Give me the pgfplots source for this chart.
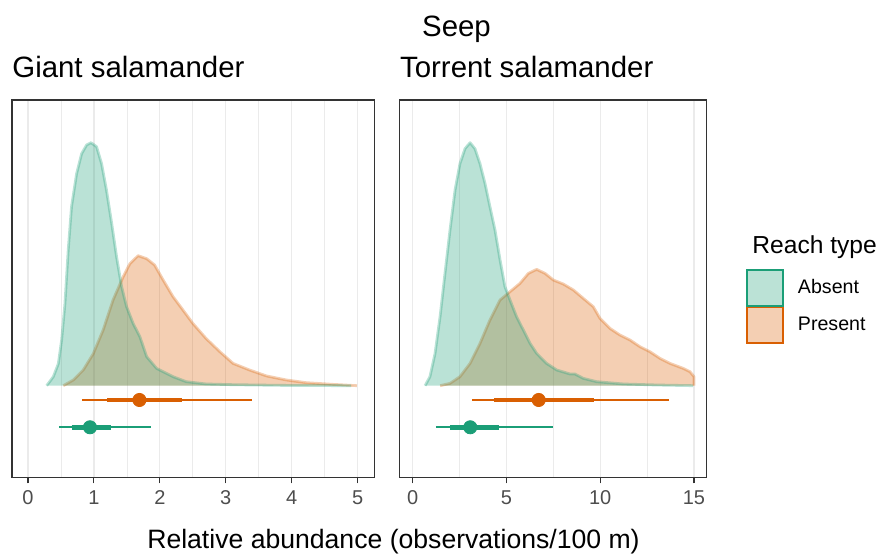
\documentclass[border=0pt]{standalone}
\usepackage{fontspec}
\setmainfont{Liberation Sans}
\usepackage{pgfplots}
\usepackage{pgfplotstable}
\pgfplotsset{compat=1.18}

\definecolor{absent}{HTML}{1B9E77}
\definecolor{present}{HTML}{D95F02}
\definecolor{gridc}{HTML}{EBEBEB}
\definecolor{frame}{HTML}{333333}
\definecolor{ticklab}{HTML}{4D4D4D}

% densities: x, height above the slab baseline (px units)
\pgfplotstableread{
x h
0.283 0
0.384 9
0.46 22
0.51 45.7
0.56 82
0.61 135.7
0.66 179
0.737 212
0.813 232
0.889 240.7
0.955 243
1.04 239
1.116 222
1.19 195.7
1.27 162
1.343 129
1.42 99
1.495 79
1.596 62
1.697 49
1.8 29
1.95 17.3
2.1 12.3
2.2 9
2.4 4
2.7 1.7
3.11 1
3.87 0.3
4.9 0
}\giantabs

\pgfplotstableread{
x h
0.535 0
0.687 5.7
0.838 15.7
0.99 32
1.14 55.7
1.29 85.7
1.444 109
1.545 122
1.67 130
1.8 127
1.92 120.7
2.05 105.7
2.2 89
2.35 75.7
2.5 62.3
2.7 47.3
2.91 34
3.11 22.3
3.36 15.7
3.62 9.7
3.92 5.7
4.22 3
4.63 1.3
4.99 0
}\giantpre

\pgfplotstableread{
x h
0.66 0
0.92 9
1.19 32
1.46 69
1.72 112
1.99 155.7
2.26 195.7
2.52 222
2.79 237
3.06 243
3.32 237
3.59 222
3.86 202
4.12 179
4.39 155.7
4.66 125.7
4.92 99
5.19 85.7
5.54 69
5.9 55.7
6.26 42.3
6.61 32.3
7.14 22.3
7.68 15.7
8.39 11.7
8.65 11.7
9.1 7.3
9.81 4
11.23 1.7
13.0 0.7
14.96 0
}\torrabs

\pgfplotstableread{
x h
1.46 0
1.99 2.3
2.52 9
3.06 22.3
3.59 42.3
4.12 65.7
4.66 85.7
5.19 94
5.72 102.3
6.17 112.3
6.61 116.3
7.06 112.3
7.5 105.7
8.03 101.7
8.57 95.7
9.1 87.3
9.63 79
9.99 67.3
10.52 57.3
11.05 50.7
11.59 45.7
12.12 39
12.65 34
13.19 27.3
13.72 22.3
14.43 17.3
14.79 14
15.0 9
15.0 0
}\torrpre

\pgfplotsset{
  panel/.style={
    scale only axis, anchor=south west,
    height=188.85pt, ymin=0, ymax=377.7, ytick=\empty,
    axis line style={frame, line width=0.55pt},
    tick align=outside, xtick pos=lower,
    major tick length=2.85pt, minor tick length=0pt,
    tick style={frame, line width=0.55pt},
    minor x tick num=1,
    xmajorgrids, xminorgrids,
    major grid style={gridc, line width=0.6pt},
    minor grid style={gridc, line width=0.35pt},
    /pgf/number format/assume math mode=true,
    xticklabel style={font=\fontsize{10}{12}\selectfont, text=ticklab,
                      inner sep=0pt, yshift=-3.3pt},
  },
  slab/.style={draw=#1, fill=#1, opacity=0.3, line width=1.4pt, line join=round},
  thinci/.style={#1, line width=1pt},
  thickci/.style={#1, line width=2.4pt},
  pt/.style={#1, only marks, mark=*, mark size=3.3pt},
}

\begin{document}
\begin{tikzpicture}
\path[use as bounding box] (0,0) rectangle (440pt,277.5pt);

\begin{axis}[panel, at={(6pt,38.65pt)}, width=181.35pt,
  xmin=-0.243, xmax=5.259, xtick={0,1,2,3,4,5}]
  \addplot[slab=present] table[x=x, y expr=\thisrow{h}+92] {\giantpre};
  \addplot[slab=absent] table[x=x, y expr=\thisrow{h}+92] {\giantabs};
  \addplot[thinci=present] coordinates {(0.823,77.7) (3.40,77.7)};
  \addplot[thickci=present] coordinates {(1.20,77.7) (2.34,77.7)};
  \addplot[pt=present] coordinates {(1.69,77.7)};
  \addplot[thinci=absent] coordinates {(0.475,50.4) (1.864,50.4)};
  \addplot[thickci=absent] coordinates {(0.66,50.4) (1.26,50.4)};
  \addplot[pt=absent] coordinates {(0.94,50.4)};
\end{axis}

\begin{axis}[panel, at={(199.85pt,38.65pt)}, width=153.5pt,
  xmin=-0.693, xmax=15.68, xtick={0,5,10,15},
  legend style={at={(axis description cs:1.128,0.5526)}, anchor=north west,
    draw=none, fill=none, inner sep=0pt, row sep=0pt, column sep=7pt,
    font=\fontsize{9.8}{12}\selectfont,
    nodes={inner sep=0pt, anchor=west}},
  legend cell align=left,
  legend image code/.code={\draw[#1, line width=0.8pt] (0pt,-8.9pt) rectangle (18pt,8.9pt);}]
  \addlegendimage{draw=absent, fill=absent!30}
  \addlegendentry{Absent}
  \addlegendimage{draw=present, fill=present!30}
  \addlegendentry{Present}
  \addplot[slab=present] table[x=x, y expr=\thisrow{h}+92] {\torrpre};
  \addplot[slab=absent] table[x=x, y expr=\thisrow{h}+92] {\torrabs};
  \addplot[thinci=present] coordinates {(3.18,77.7) (13.67,77.7)};
  \addplot[thickci=present] coordinates {(4.35,77.7) (9.67,77.7)};
  \addplot[pt=present] coordinates {(6.72,77.7)};
  \addplot[thinci=absent] coordinates {(1.23,50.4) (7.46,50.4)};
  \addplot[thickci=absent] coordinates {(1.99,50.4) (4.60,50.4)};
  \addplot[pt=absent] coordinates {(3.07,50.4)};
\end{axis}

\node[anchor=base, font=\fontsize{14.7}{17}\selectfont] at (228.25pt,259.15pt) {Seep};
\node[anchor=base west, inner sep=0pt, font=\fontsize{14.7}{17}\selectfont] at (6pt,238.85pt) {Giant salamander};
\node[anchor=base west, inner sep=0pt, font=\fontsize{14.7}{17}\selectfont] at (199.85pt,238.85pt) {Torrent salamander};
\node[anchor=base west, inner sep=0pt, font=\fontsize{12.3}{15}\selectfont] at (376pt,150.85pt) {Reach type};
\node[anchor=base, inner sep=0pt, font=\fontsize{13.3}{16}\selectfont] at (196.75pt,3pt) {Relative abundance (observations/100 m)};
\end{tikzpicture}
\end{document}
